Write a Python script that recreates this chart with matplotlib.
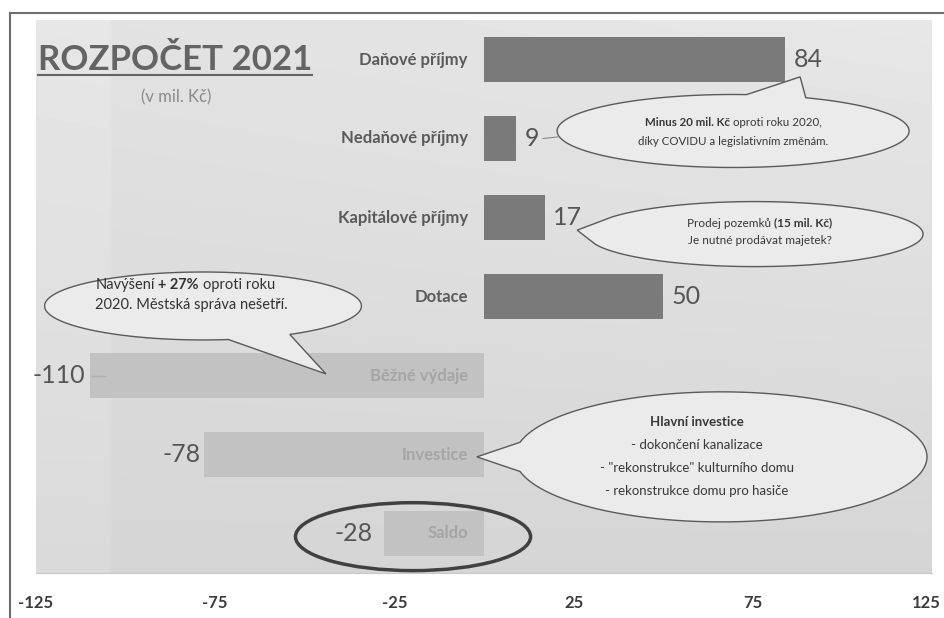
import numpy as np
import matplotlib
matplotlib.use('Agg')
import matplotlib.pyplot as plt
from matplotlib.patches import Polygon, Ellipse, Rectangle
from matplotlib.transforms import offset_copy
from matplotlib.lines import Line2D

plt.rcParams['font.family'] = ['Lato', 'DejaVu Sans']

# ---------------- data ----------------
categories = ['Daňové příjmy', 'Nedaňové příjmy', 'Kapitálové příjmy', 'Dotace',
              'Běžné výdaje', 'Investice', 'Saldo']
values = [84, 9, 17, 50, -110, -78, -28]
x_ticks = [-125, -75, -25, 25, 75, 125]

title_text = 'ROZPOČET 2021'
subtitle_text = '(v mil. Kč)'

note_income = [[('Minus 20 mil. Kč', 'bold'), ('oproti roku 2020,', 'normal')],
               [('díky COVIDU a legislativním změnám.', 'normal')]]
note_capital = [[('Prodej pozemků', 'normal'), ('(15 mil. Kč)', 'bold')],
                [('Je nutné prodávat majetek?', 'normal')]]
note_spend = [[('Navýšení', 'normal'), ('+ 27%', 'bold'), ('oproti roku', 'normal')],
              [('2020. Městská správa nešetří.', 'normal')]]
note_invest = [[('Hlavní investice', 'bold')],
               [('- dokončení kanalizace', 'normal')],
               [('- "rekonstrukce" kulturního domu', 'normal')],
               [('- rekonstrukce domu pro hasiče', 'normal')]]

# ---------------- figure ----------------
W, H = 944, 618
fig = plt.figure(figsize=(W / 100, H / 100), dpi=100)
fig.patch.set_facecolor('white')
ax = fig.add_axes([36 / W, 45 / H, 896 / W, 553 / H])
ax.set_xlim(-125, 125)
ax.set_ylim(6.5, -0.5)

# background gradient
yy, xx = np.mgrid[0:1:120j, 0:1:240j]
bg = 0.885 - 0.05 * yy + 0.02 * xx * (1 - yy)
bg = bg + 0.018 * (xx < 0.08)
ax.imshow(bg, cmap='gray', vmin=0, vmax=1, extent=(-125, 125, 6.5, -0.5),
          aspect='auto', zorder=0, interpolation='bilinear')

pos_col, neg_col = '#7a7a7a', '#c2c2c2'
ypos = np.arange(len(categories))
ax.barh(ypos, values, height=0.56,
        color=[pos_col if v > 0 else neg_col for v in values], zorder=2)

for i, (c, v) in enumerate(zip(categories, values)):
    ax.text(-4.5, i, c, ha='right', va='center', fontsize=12, fontweight='bold',
            color='#5a5a5a' if v > 0 else '#a5a5a5', zorder=3)
    if v > 0:
        ax.annotate(str(v), (v, i), xytext=(6, 0), textcoords='offset points',
                    ha='left', va='center', fontsize=18, color='#555555', zorder=5)
    else:
        off = -8 if i == len(values) - 1 else -3
        ax.annotate(str(v), (v, i), xytext=(off, 0), textcoords='offset points',
                    ha='right', va='center', fontsize=18, color='#555555', zorder=5)

# small leader lines
ax.plot([values[4] + 0.5, values[4] + 4.5], [4, 4], color='#b0b0b0', lw=1, zorder=3)
ax.plot([values[1] + 7.5, values[1] + 11.5], [1.0, 0.98], color='#888888', lw=0.8, zorder=3)

ax.set_xticks(x_ticks)
ax.set_xticklabels([str(t) for t in x_ticks])
ax.set_yticks([])
ax.tick_params(axis='x', length=0, pad=16, labelsize=12, labelcolor='#3c3c3c')
for lab in ax.get_xticklabels():
    lab.set_fontweight('bold')
last = ax.get_xticklabels()[-1]
last.set_transform(last.get_transform() + matplotlib.transforms.ScaledTranslation(-6 / 100, 0, fig.dpi_scale_trans))
for s in ['top', 'left', 'right']:
    ax.spines[s].set_visible(False)
ax.spines['bottom'].set_color('#c8c8c8')


# ---------------- callouts ----------------
def bubble(cx, cy, w, h, apex, spread_deg, fc='#ebebeb', ec='#5a5a5a'):
    axp, ayp = apex
    t0 = np.arctan2((ayp - cy) / (h / 2), (axp - cx) / (w / 2))
    sp = np.radians(spread_deg)
    t = np.linspace(t0 + sp, t0 + 2 * np.pi - sp, 300)
    pts = np.column_stack([cx + w / 2 * np.cos(t), cy + h / 2 * np.sin(t)])
    pts = np.vstack([pts, [apex]])
    ax.add_patch(Polygon(pts, closed=True, fc=fc, ec=ec, lw=1.0, zorder=4))


fig.canvas.draw()
renderer = fig.canvas.get_renderer()


def text_width(s, size, weight):
    t = ax.text(0, 0, s, fontsize=size, fontweight=weight)
    w = t.get_window_extent(renderer).width
    t.remove()
    return w


def rich_line(x, y, segments, size, ha='center', color='#383838'):
    gap = text_width('x x', size, 'normal') - text_width('xx', size, 'normal')
    widths = [text_width(s, size, wt) for s, wt in segments]
    total = sum(widths) + gap * (len(segments) - 1)
    start = {'center': -total / 2, 'left': 0, 'right': -total}[ha]
    off = start
    for (s, wt), wd in zip(segments, widths):
        tr = offset_copy(ax.transData, fig=fig, x=off, y=0, units='dots')
        ax.text(x, y, s, transform=tr, fontsize=size, fontweight=wt, color=color,
                ha='left', va='center', zorder=6)
        off += wd + gap


# bubble 1 - income
bubble(69.5, 0.905, 98.2, 0.924, (values[0] + 4.2, 0.22), 10)
for k, ln in enumerate(note_income):
    rich_line(69.5, 0.80 + 0.24 * k, ln, 8.3)

# bubble 2 - capital income
bubble(75.6, 2.21, 93.8, 0.823, (values[2] + 9, 2.16), 25)
for k, ln in enumerate(note_capital):
    rich_line(77, 2.07 + 0.22 * k, ln, 8.5)

# bubble 3 - current spending
bubble(-78.4, 3.12, 88.4, 0.86, (-44.1, 3.98), 12)
for k, ln in enumerate(note_spend):
    rich_line(-108.5, 2.85 + 0.26 * k, ln, 10.5, ha='left', color='#333333')

# bubble 4 - investments
bubble(66.1, 5.03, 115, 1.646, (-2.0, 5.03), 13)
for k, ln in enumerate(note_invest):
    rich_line(59.4, 4.59 + 0.29 * k, ln, 9.5)

# saldo ellipse
ax.add_patch(Ellipse((-19.8, 6.04), 65.6, 0.86, fill=False, ec='#404040', lw=2.5, zorder=5))

# ---------------- title ----------------
tt = fig.text(38 / W, 1 - 70 / H, title_text, fontsize=25, fontweight='bold',
              color='#646464', ha='left', va='baseline')
fig.canvas.draw()
bb = tt.get_window_extent(renderer)
fig.add_artist(Line2D([bb.x0 / W, bb.x1 / W], [1 - 75 / H, 1 - 75 / H],
                      transform=fig.transFigure, color='#646464', lw=1.5))
fig.text(176 / W, 1 - 97 / H, subtitle_text, fontsize=12, color='#8a8a8a',
         ha='center', va='center')

# outer frame
fig.add_artist(Rectangle((10 / W, -0.05), 1.0, 1.05 - 13 / H, fill=False,
                         transform=fig.transFigure, ec='#6e6e6e', lw=1.5, clip_on=False))

fig.savefig('out.png', dpi=100)
